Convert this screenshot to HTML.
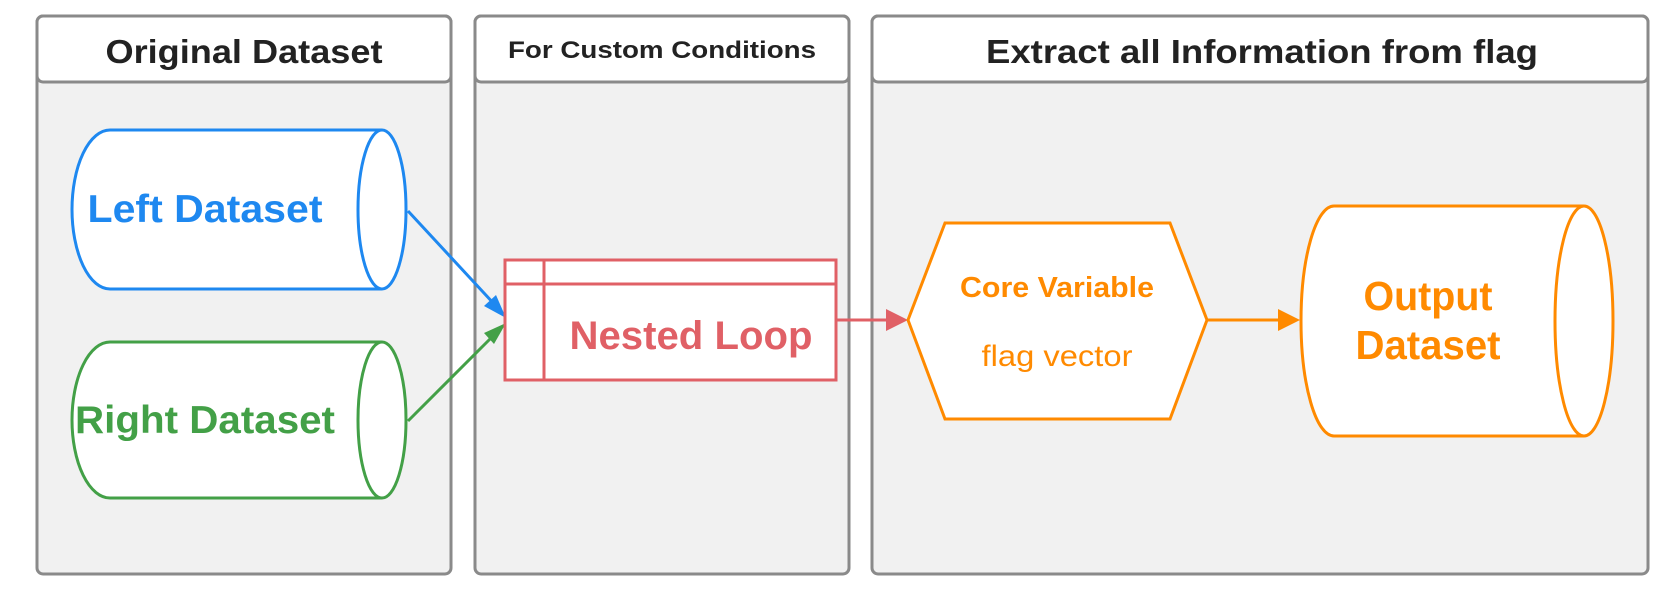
<!DOCTYPE html>
<html><head><meta charset="utf-8"><style>
html,body{margin:0;padding:0;background:#fff;}
svg{display:block;font-family:"Liberation Sans",Arial,sans-serif;}
</style></head><body>
<svg width="1668" height="590" viewBox="0 0 1668 590" xmlns="http://www.w3.org/2000/svg">
<g stroke="#8a8a8a" stroke-width="3">
<rect x="37" y="16" width="414" height="558" rx="6" fill="#f1f1f1"/>
<rect x="37" y="16" width="414" height="66" rx="6" fill="#fff"/>
<rect x="475" y="16" width="374" height="558" rx="6" fill="#f1f1f1"/>
<rect x="475" y="16" width="374" height="66" rx="6" fill="#fff"/>
<rect x="872" y="16" width="776" height="558" rx="6" fill="#f1f1f1"/>
<rect x="872" y="16" width="776" height="66" rx="6" fill="#fff"/>
</g>
<g fill="#222" font-weight="bold" text-anchor="middle">
<text x="244" y="63" font-size="33" textLength="277" lengthAdjust="spacingAndGlyphs">Original Dataset</text>
<text x="662" y="58" font-size="24" textLength="308" lengthAdjust="spacingAndGlyphs">For Custom Conditions</text>
<text x="1262" y="63" font-size="33" textLength="552" lengthAdjust="spacingAndGlyphs">Extract all Information from flag</text>
</g>
<g stroke="#1e88f0" stroke-width="3" fill="#fff">
<path d="M382,130 L110,130 A38,79.5 0 0 0 110,289 L382,289"/>
<ellipse cx="382" cy="209.5" rx="24" ry="79.5"/>
</g>
<text x="205" y="222" font-size="39" font-weight="bold" fill="#1e88f0" text-anchor="middle" textLength="235" lengthAdjust="spacingAndGlyphs">Left Dataset</text>
<g stroke="#43a047" stroke-width="3" fill="#fff">
<path d="M382,342 L110,342 A38,78 0 0 0 110,498 L382,498"/>
<ellipse cx="382" cy="420" rx="24" ry="78"/>
</g>
<text x="205" y="433" font-size="39" font-weight="bold" fill="#43a047" text-anchor="middle" textLength="260" lengthAdjust="spacingAndGlyphs">Right Dataset</text>
<line x1="408" y1="211" x2="496" y2="306" stroke="#1e88f0" stroke-width="3"/>
<path d="M506,318 L484,306 L496,295 z" fill="#1e88f0"/>
<line x1="408" y1="421" x2="495" y2="334" stroke="#43a047" stroke-width="3"/>
<path d="M506,323 L494,344 L484,333 z" fill="#43a047"/>
<g stroke="#e06066" stroke-width="3" fill="none">
<rect x="505" y="260" width="331" height="120" fill="#fff"/>
<line x1="505" y1="284" x2="836" y2="284"/>
<line x1="544" y1="260" x2="544" y2="380"/>
</g>
<text x="691" y="349" font-size="40" font-weight="bold" fill="#e06066" text-anchor="middle" textLength="243" lengthAdjust="spacingAndGlyphs">Nested Loop</text>
<line x1="836" y1="320" x2="890" y2="320" stroke="#e06066" stroke-width="3"/>
<path d="M908,320 L886,309 L886,331 z" fill="#e06066"/>
<polygon points="908,320 945,223 1170,223 1207,320 1170,419 945,419" fill="#fff" stroke="#ff8a00" stroke-width="3"/>
<text x="1057" y="297" font-size="29" font-weight="bold" fill="#ff8a00" text-anchor="middle" textLength="194" lengthAdjust="spacingAndGlyphs">Core Variable</text>
<text x="1057" y="366" font-size="30" fill="#ff8a00" text-anchor="middle" textLength="151" lengthAdjust="spacingAndGlyphs">flag vector</text>
<line x1="1207" y1="320" x2="1282" y2="320" stroke="#ff8a00" stroke-width="3"/>
<path d="M1300,320 L1278,309 L1278,331 z" fill="#ff8a00"/>
<g stroke="#ff8a00" stroke-width="3" fill="#fff">
<path d="M1584,206 L1334,206 A33,115 0 0 0 1334,436 L1584,436"/>
<ellipse cx="1584" cy="321" rx="29" ry="115"/>
</g>
<g font-size="41" font-weight="bold" fill="#ff8a00" text-anchor="middle">
<text x="1428" y="310" textLength="129" lengthAdjust="spacingAndGlyphs">Output</text>
<text x="1428" y="359" textLength="145" lengthAdjust="spacingAndGlyphs">Dataset</text>
</g>
</svg>
</body></html>
